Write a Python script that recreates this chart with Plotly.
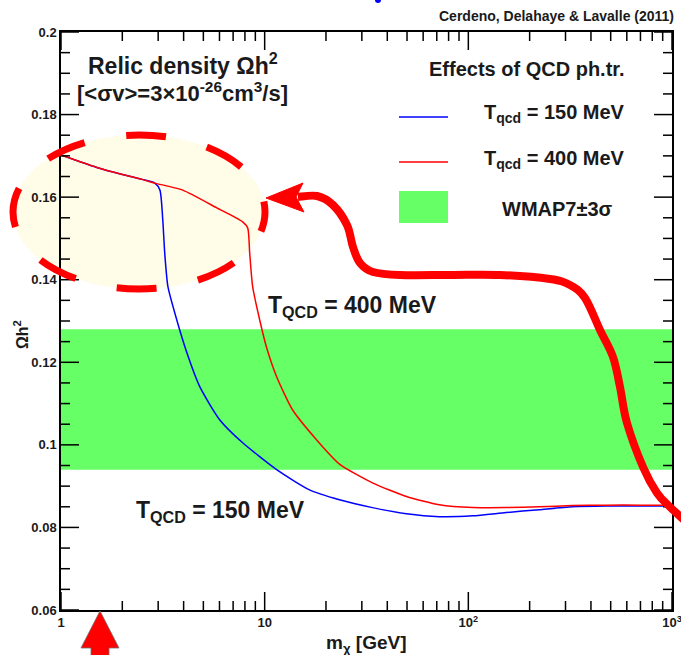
import plotly.graph_objects as go

# ---- data -------------------------------------------------------------
mass_150 = [1.0, 1.25, 1.5, 2.0, 2.5, 2.89, 3.06, 3.16, 3.23, 3.35, 3.70, 4.15, 4.80,
            6.01, 7.80, 11.45, 16.6, 23.3, 33.8, 49.7, 72, 105, 153, 223, 324, 475, 700, 1000]
omega_150 = [0.1702, 0.1685, 0.1672, 0.1655, 0.1643, 0.1634, 0.1617, 0.1545, 0.1465, 0.1383,
             0.1303, 0.1223, 0.1141, 0.1061, 0.1005, 0.0940, 0.0891, 0.0867, 0.0848, 0.0833,
             0.0826, 0.0828, 0.0836, 0.0843, 0.0850, 0.0852, 0.0852, 0.0852]

mass_400 = [1.0, 1.25, 1.5, 2.0, 2.5, 2.89, 3.96, 5.82, 7.80, 8.26, 8.44, 8.73, 9.45, 10.2,
            11.45, 13.7, 18.0, 23.5, 33.8, 49.7, 72, 105, 153, 223, 324, 475, 700, 1000]
omega_400 = [0.1702, 0.1685, 0.1672, 0.1655, 0.1643, 0.1634, 0.1617, 0.1574, 0.1540, 0.1525,
             0.1465, 0.1383, 0.1303, 0.1237, 0.1165, 0.1085, 0.1012, 0.0952, 0.0908, 0.0875,
             0.0855, 0.0848, 0.0848, 0.0850, 0.0853, 0.0854, 0.0854, 0.0854]

wmap_lo, wmap_hi = 0.094, 0.128

x_range = [1, 1000]
y_range = [0.06, 0.20]
x_tickvals = [1, 10, 100, 1000]
x_ticktext = ["1", "10", "10<sup>2</sup>", "10<sup>3</sup>"]
x_minorvals = [m * d for d in (1, 10, 100) for m in range(2, 10)]
y_tickvals = [0.06, 0.08, 0.10, 0.12, 0.14, 0.16, 0.18, 0.20]
y_ticktext = ["0.06", "0.08", "0.1", "0.12", "0.14", "0.16", "0.18", "0.2"]
y_minorvals = [round(0.06 + 0.005 * i, 3) for i in range(29) if i % 4]

# ---- page geometry ----------------------------------------------------
W, H = 681, 655
L, R, T, B = 61, 9, 32, 45
PW, PH = W - L - R, H - T - B


def px(x):
    return (x - L) / PW


def py(y):
    return (H - B - y) / PH


FONT = "Liberation Sans, Arial, Helvetica, sans-serif"
INK = "#1a1a1a"

fig = go.Figure()
fig.add_trace(go.Scatter(x=mass_150, y=omega_150, mode="lines",
                         line=dict(color="#0000ff", width=1.5, shape="spline", smoothing=0.6),
                         showlegend=False))
fig.add_trace(go.Scatter(x=mass_400, y=omega_400, mode="lines",
                         line=dict(color="#ff0000", width=1.5, shape="spline", smoothing=0.6),
                         showlegend=False))

# frame ticks pointing inwards on all four sides, drawn as short segments on the axes
MAJ, MIN = 18, 9
decades = 3  # log10(1000 / 1)
y_span = y_range[1] - y_range[0]
tx, ty = [], []
for vals, length in ((x_tickvals, MAJ), (x_minorvals, MIN)):
    dy = y_span * length / PH
    for v in vals:
        tx += [v, v, None, v, v, None]
        ty += [y_range[0], y_range[0] + dy, None, y_range[1] - dy, y_range[1], None]
for vals, length in ((y_tickvals, MAJ), (y_minorvals, MIN)):
    fx = 10 ** (decades * length / PW)
    for v in vals:
        tx += [x_range[0], x_range[0] * fx, None, x_range[1] / fx, x_range[1], None]
        ty += [v, v, None, v, v, None]
fig.add_trace(go.Scatter(x=tx, y=ty, mode="lines", line=dict(color="black", width=1.5),
                         showlegend=False, hoverinfo="skip", cliponaxis=False))

shapes = []
# WMAP7 +-3 sigma band
shapes.append(dict(type="rect", xref="paper", yref="y", x0=0, x1=1, y0=wmap_lo, y1=wmap_hi,
                   fillcolor="#66ff66", line=dict(width=0), layer="below"))

# highlighted region: filled ellipse underneath, dashed outline on top
ex0, ex1, ey0, ey1 = px(13), px(265), py(289), py(135)
shapes.append(dict(type="circle", xref="paper", yref="paper", x0=ex0, x1=ex1, y0=ey0, y1=ey1,
                   fillcolor="#fffce8", opacity=1, line=dict(width=0), layer="below"))
dash = "20px," + ",".join(["42px,40px"] * 7) + ",42px,20px"
shapes.append(dict(type="circle", xref="paper", yref="paper", x0=ex0, x1=ex1, y0=ey0, y1=ey1,
                   fillcolor="rgba(0,0,0,0)",
                   line=dict(color="#ff0000", width=7, dash=dash), layer="above"))


def smooth_path(pts):
    """Catmull-Rom curve through pixel points, returned as an SVG path in paper units."""
    P = [(px(a), py(b)) for a, b in pts]
    d = f"M{P[0][0]:.5f},{P[0][1]:.5f}"
    for i in range(len(P) - 1):
        p0 = P[i - 1] if i > 0 else P[i]
        p1, p2 = P[i], P[i + 1]
        p3 = P[i + 2] if i + 2 < len(P) else P[i + 1]
        c1 = (p1[0] + (p2[0] - p0[0]) / 6, p1[1] + (p2[1] - p0[1]) / 6)
        c2 = (p2[0] - (p3[0] - p1[0]) / 6, p2[1] - (p3[1] - p1[1]) / 6)
        d += (f" C{c1[0]:.5f},{c1[1]:.5f} {c2[0]:.5f},{c2[1]:.5f} "
              f"{p2[0]:.5f},{p2[1]:.5f}")
    return d


def poly_path(pts):
    return "M" + " L".join(f"{px(a):.5f},{py(b):.5f}" for a, b in pts) + " Z"


# hand-drawn pointer from the right edge back to the highlighted region
pointer = [(684, 520), (670, 507), (657, 493), (643, 467), (627, 423), (620, 387),
           (613, 357), (600, 330), (585, 298), (570, 285), (550, 279), (500, 275),
           (450, 275), (400, 275), (373, 272), (360, 263), (353, 247), (347, 225),
           (333, 205), (317, 196), (298, 197)]
shapes.append(dict(type="path", xref="paper", yref="paper", path=smooth_path(pointer),
                   fillcolor="rgba(0,0,0,0)",
                   line=dict(color="#ff0000", width=8), layer="above"))
shapes.append(dict(type="path", xref="paper", yref="paper",
                   path=poly_path([(266, 198), (303, 183), (296, 197), (304, 212)]),
                   fillcolor="#ff0000", line=dict(color="#ff0000", width=1), layer="above"))

# upward arrow under the axis
shapes.append(dict(type="path", xref="paper", yref="paper",
                   path=poly_path([(100, 611), (119, 648), (109, 648), (109, 662),
                                   (91, 662), (91, 648), (81, 648)]),
                   fillcolor="#ff0000", line=dict(color="rgba(110,110,110,0.8)", width=1),
                   layer="above"))

# small blue mark at the top edge
shapes.append(dict(type="circle", xref="paper", yref="paper", x0=px(375), x1=px(381),
                   y0=py(3), y1=py(-3), fillcolor="#0000ff", line=dict(width=0)))

# legend drawn by hand
shapes.append(dict(type="line", xref="paper", yref="paper", x0=px(399), x1=px(448),
                   y0=py(117), y1=py(117), line=dict(color="#0000ff", width=1.5)))
shapes.append(dict(type="line", xref="paper", yref="paper", x0=px(399), x1=px(448),
                   y0=py(162), y1=py(162), line=dict(color="#ff0000", width=1.5)))
shapes.append(dict(type="rect", xref="paper", yref="paper", x0=px(399), x1=px(448),
                   y0=py(223), y1=py(191), fillcolor="#66ff66", line=dict(width=0)))

annotations = []


def label(text, x, y, size, xanchor="center", yanchor="middle", angle=0, color=INK):
    annotations.append(dict(text=text, x=px(x), y=py(y), xref="paper", yref="paper",
                            xanchor=xanchor, yanchor=yanchor, showarrow=False,
                            textangle=angle,
                            font=dict(family=FONT, size=size, color=color, weight="bold")))


label("Cerdeno, Delahaye &amp; Lavalle (2011)", 676, 16, 14, xanchor="right")
label("Relic density \u03a9h<sup>2</sup>", 183, 64, 23)
label("[&lt;\u03c3v&gt;=3\u00d710<sup>-26</sup>cm<sup>3</sup>/s]", 182, 92, 22)
label("Effects of QCD ph.tr.", 627, 69, 20, xanchor="right")
label("T<sub>qcd</sub> = 150 MeV", 627, 114, 20, xanchor="right")
label("T<sub>qcd</sub> = 400 MeV", 627, 159, 20, xanchor="right")
label("WMAP7\u00b13\u03c3", 557, 209, 20)
label("T<sub>QCD</sub> = 400 MeV", 266, 306, 23, xanchor="left")
label("T<sub>QCD</sub> = 150 MeV", 134, 511, 23, xanchor="left")
label("\u03a9h<sup>2</sup>", 21, 335, 16, angle=-90)
label("m<sub>\u03c7</sub> [GeV]", 366, 644, 19)

axis_style = dict(ticks="", showline=True, linecolor="black", linewidth=1.5, mirror=True,
                  showgrid=False, zeroline=False, automargin=False,
                  tickfont=dict(family=FONT, size=13, color=INK, weight="bold"))

fig.update_layout(
    template="none",
    width=W, height=H,
    margin=dict(l=L, r=R, t=T, b=B, autoexpand=False),
    paper_bgcolor="white", plot_bgcolor="white",
    showlegend=False,
    shapes=shapes,
    annotations=annotations,
    xaxis=dict(type="log", range=[0, decades], tickmode="array", tickvals=x_tickvals,
               ticktext=x_ticktext, ticklabeloverflow="allow", **axis_style),
    yaxis=dict(range=y_range, tickmode="array", tickvals=y_tickvals,
               ticktext=y_ticktext, **axis_style),
)

fig.write_html("out.html")
